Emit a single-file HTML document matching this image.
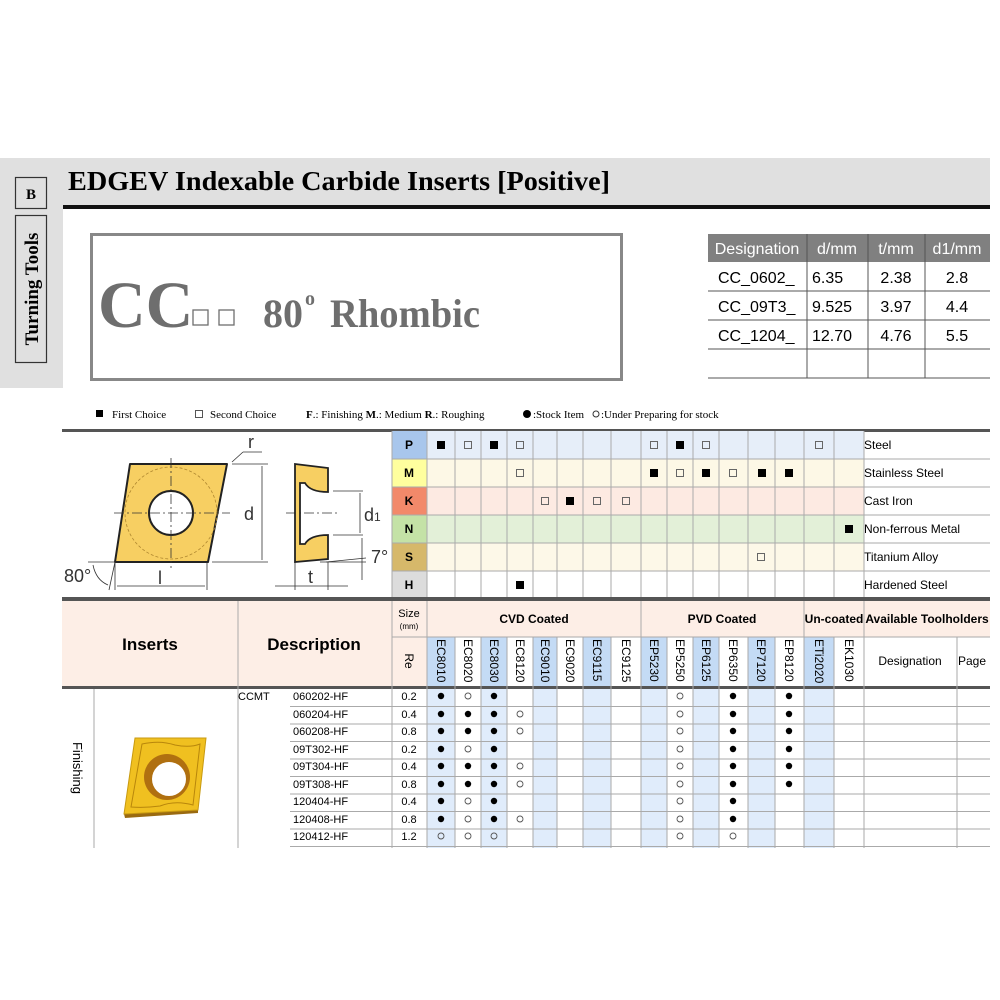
<!DOCTYPE html>
<html><head><meta charset="utf-8"><style>
html,body{margin:0;padding:0;background:#fff;}
svg{display:block;}
.s{font-family:"Liberation Sans",sans-serif;}
.r{font-family:"Liberation Serif",serif;}
</style></head><body>
<svg width="1000" height="1000" viewBox="0 0 1000 1000" xmlns="http://www.w3.org/2000/svg">
<!-- header band -->
<rect x="0" y="158" width="990" height="50" fill="#e0e0e0"/>
<rect x="0" y="158" width="63" height="230" fill="#e0e0e0"/>
<rect x="63" y="205" width="927" height="4" fill="#111"/>
<rect x="15.5" y="177.5" width="31" height="31" fill="none" stroke="#333" stroke-width="1.2"/>
<text x="31" y="199" class="r" font-size="15" font-weight="bold" text-anchor="middle">B</text>
<rect x="15.5" y="215.5" width="31" height="147" fill="none" stroke="#333" stroke-width="1.2"/>
<text transform="translate(38,289) rotate(-90)" class="r" font-size="19" font-weight="bold" text-anchor="middle">Turning Tools</text>
<text x="68" y="190" class="r" font-size="27" font-weight="bold" textLength="542" lengthAdjust="spacingAndGlyphs">EDGEV Indexable Carbide Inserts [Positive]</text>
<!-- big box -->
<rect x="91.5" y="234.5" width="530" height="145" fill="#fff" stroke="#888" stroke-width="3"/>
<text x="98" y="327" class="r" font-size="66" font-weight="bold" fill="#6e6e6e">CC</text>
<rect x="193" y="310" width="15" height="15" fill="none" stroke="#6e6e6e" stroke-width="1.3"/>
<rect x="219" y="310" width="15" height="15" fill="none" stroke="#6e6e6e" stroke-width="1.3"/>
<text x="263" y="327" class="r" font-size="40" font-weight="bold" fill="#6e6e6e">80</text>
<text x="305" y="305" class="r" font-size="20" font-weight="bold" fill="#6e6e6e">o</text>
<text x="330" y="327" class="r" font-size="40" font-weight="bold" fill="#6e6e6e" textLength="150" lengthAdjust="spacingAndGlyphs">Rhombic</text>
<!-- dimensions table -->
<rect x="708" y="234" width="282" height="28" fill="#808080"/>
<g stroke="#555" stroke-width="1">
<line x1="807" y1="234" x2="807" y2="378"/><line x1="868" y1="234" x2="868" y2="378"/><line x1="925" y1="234" x2="925" y2="378"/>
<line x1="708" y1="291" x2="990" y2="291"/><line x1="708" y1="320" x2="990" y2="320"/><line x1="708" y1="349" x2="990" y2="349"/><line x1="708" y1="378" x2="990" y2="378"/>
</g>
<g class="s" font-size="16">
<text x="757" y="254" fill="#fff" text-anchor="middle">Designation</text>
<text x="837" y="254" fill="#fff" text-anchor="middle">d/mm</text>
<text x="896" y="254" fill="#fff" text-anchor="middle">t/mm</text>
<text x="957" y="254" fill="#fff" text-anchor="middle">d1/mm</text>
<text x="718" y="283">CC_0602_</text><text x="812" y="283">6.35</text><text x="896" y="283" text-anchor="middle">2.38</text><text x="957" y="283" text-anchor="middle">2.8</text>
<text x="718" y="312">CC_09T3_</text><text x="812" y="312">9.525</text><text x="896" y="312" text-anchor="middle">3.97</text><text x="957" y="312" text-anchor="middle">4.4</text>
<text x="718" y="341">CC_1204_</text><text x="812" y="341">12.70</text><text x="896" y="341" text-anchor="middle">4.76</text><text x="957" y="341" text-anchor="middle">5.5</text>
</g>
<!-- legend -->
<g class="r" font-size="11">
<rect x="96" y="410" width="7" height="7" fill="#000"/><text x="112" y="418">First Choice</text>
<rect x="195.5" y="410.5" width="7" height="7" fill="none" stroke="#555"/><text x="210" y="418">Second Choice</text>
<text x="306" y="418"><tspan font-weight="bold">F</tspan>.: Finishing  <tspan font-weight="bold">M</tspan>.: Medium  <tspan font-weight="bold">R</tspan>.: Roughing</text>
<circle cx="527" cy="414" r="4" fill="#000"/><text x="533" y="418">:Stock Item</text>
<circle cx="596" cy="414" r="3" fill="none" stroke="#333"/><text x="601" y="418">:Under Preparing for stock</text>
</g>
<!-- material rows -->
<rect x="62" y="429" width="928" height="3" fill="#555"/>
<rect x="427" y="431" width="437" height="28" fill="#e6eef9"/>
<rect x="427" y="459" width="437" height="28" fill="#fdf8e6"/>
<rect x="427" y="487" width="437" height="28" fill="#fdeae2"/>
<rect x="427" y="515" width="437" height="28" fill="#e3f0d8"/>
<rect x="427" y="543" width="437" height="28" fill="#fdf8e8"/>
<rect x="427" y="571" width="437" height="28" fill="#fff"/>
<rect x="392" y="431" width="35" height="28" fill="#a8c6ec"/>
<rect x="392" y="459" width="35" height="28" fill="#ffff9e"/>
<rect x="392" y="487" width="35" height="28" fill="#f2896a"/>
<rect x="392" y="515" width="35" height="28" fill="#c4e2a6"/>
<rect x="392" y="543" width="35" height="28" fill="#d6b86a"/>
<rect x="392" y="571" width="35" height="28" fill="#dcdcdc"/>
<g class="s" font-size="12" font-weight="bold" text-anchor="middle">
<text x="409" y="449">P</text><text x="409" y="477">M</text><text x="409" y="505">K</text><text x="409" y="533">N</text><text x="409" y="561">S</text><text x="409" y="589">H</text>
</g>
<g class="s" font-size="12">
<text x="864" y="449">Steel</text><text x="864" y="477">Stainless Steel</text><text x="864" y="505">Cast Iron</text><text x="864" y="533">Non-ferrous Metal</text><text x="864" y="561">Titanium Alloy</text><text x="864" y="589">Hardened Steel</text>
</g>
<g stroke="#aaa" stroke-width="1">
<line x1="392" y1="459" x2="990" y2="459"/><line x1="392" y1="487" x2="990" y2="487"/><line x1="392" y1="515" x2="990" y2="515"/><line x1="392" y1="543" x2="990" y2="543"/><line x1="392" y1="571" x2="990" y2="571"/>
<line x1="392" y1="431" x2="392" y2="599"/>
<line x1="427" y1="431" x2="427" y2="599"/><line x1="455" y1="431" x2="455" y2="599"/><line x1="481" y1="431" x2="481" y2="599"/><line x1="507" y1="431" x2="507" y2="599"/><line x1="533" y1="431" x2="533" y2="599"/><line x1="557" y1="431" x2="557" y2="599"/><line x1="583" y1="431" x2="583" y2="599"/><line x1="611" y1="431" x2="611" y2="599"/><line x1="641" y1="431" x2="641" y2="599"/><line x1="667" y1="431" x2="667" y2="599"/><line x1="693" y1="431" x2="693" y2="599"/><line x1="719" y1="431" x2="719" y2="599"/><line x1="748" y1="431" x2="748" y2="599"/><line x1="775" y1="431" x2="775" y2="599"/><line x1="804" y1="431" x2="804" y2="599"/><line x1="834" y1="431" x2="834" y2="599"/><line x1="864" y1="431" x2="864" y2="599"/>
</g>
<!-- marks: filled -->
<g fill="#000">
<rect x="437" y="441" width="8" height="8"/><rect x="490" y="441" width="8" height="8"/><rect x="676" y="441" width="8" height="8"/>
<rect x="650" y="469" width="8" height="8"/><rect x="702" y="469" width="8" height="8"/><rect x="758" y="469" width="8" height="8"/><rect x="785" y="469" width="8" height="8"/>
<rect x="566" y="497" width="8" height="8"/>
<rect x="845" y="525" width="8" height="8"/>
<rect x="516" y="581" width="8" height="8"/>
</g>
<g fill="none" stroke="#666" stroke-width="1">
<rect x="464.5" y="441.5" width="7" height="7"/><rect x="516.5" y="441.5" width="7" height="7"/><rect x="650.5" y="441.5" width="7" height="7"/><rect x="702.5" y="441.5" width="7" height="7"/><rect x="815.5" y="441.5" width="7" height="7"/>
<rect x="516.5" y="469.5" width="7" height="7"/><rect x="676.5" y="469.5" width="7" height="7"/><rect x="729.5" y="469.5" width="7" height="7"/>
<rect x="541.5" y="497.5" width="7" height="7"/><rect x="593.5" y="497.5" width="7" height="7"/><rect x="622.5" y="497.5" width="7" height="7"/>
<rect x="757.5" y="553.5" width="7" height="7"/>
</g>
<!-- diagram -->
<path d="M130,464 L227,464 L208,562 L115,562 Z" fill="#f7cf62" stroke="#222" stroke-width="2" stroke-linejoin="round"/>
<circle cx="171" cy="513" r="46" fill="none" stroke="#b08830" stroke-width="0.8" stroke-dasharray="3,2"/>
<circle cx="171" cy="513" r="22" fill="#fff" stroke="#222" stroke-width="2"/>
<g stroke="#333" stroke-width="0.8" fill="none">
<line x1="114" y1="513" x2="230" y2="513" stroke-dasharray="10,3,2,3"/>
<line x1="171" y1="458" x2="171" y2="568" stroke-dasharray="10,3,2,3"/>
<line x1="232" y1="464" x2="268" y2="464"/><line x1="212" y1="562" x2="268" y2="562"/>
<line x1="262" y1="466" x2="262" y2="560"/>
<line x1="115" y1="562" x2="115" y2="590"/><line x1="207" y1="562" x2="207" y2="590"/>
<line x1="117" y1="586" x2="205" y2="586"/>
<line x1="88" y1="562" x2="115" y2="562"/>
<line x1="115" y1="562" x2="109" y2="590"/>
<path d="M93,565 Q96,580 108,585"/>
<line x1="232" y1="462" x2="243" y2="452"/><line x1="243" y1="452" x2="262" y2="452"/>
<line x1="333" y1="491" x2="363" y2="491"/><line x1="333" y1="535" x2="363" y2="535"/>
<line x1="360" y1="493" x2="360" y2="533"/>
<line x1="326" y1="562" x2="366" y2="558"/><line x1="320" y1="562" x2="366" y2="562"/>
<line x1="362" y1="538" x2="362" y2="580"/>
<line x1="295" y1="562" x2="295" y2="590"/><line x1="328" y1="562" x2="328" y2="590"/>
<line x1="275" y1="586" x2="348" y2="586"/>
<line x1="286" y1="513" x2="338" y2="513" stroke-dasharray="10,3,2,3"/>
</g>
<path d="M295,464 L328,468 L328,492 Q310,492 305,483 L300,483 L300,544 L305,544 Q310,535 328,535 L328,559 L295,562 Z" fill="#f7cf62" stroke="#222" stroke-width="1.8"/>
<path d="M300,483 L300,544" stroke="#222" stroke-width="1"/>
<g class="s" font-size="18" fill="#333">
<text x="248" y="448">r</text><text x="244" y="520">d</text><text x="364" y="521">d<tspan font-size="12">1</tspan></text>
<text x="371" y="563">7°</text><text x="64" y="582">80°</text><text x="158" y="584">l</text><text x="308" y="583">t</text>
</g>
<!-- second header -->
<rect x="62" y="597" width="928" height="4" fill="#555"/>
<rect x="62" y="601" width="330" height="85" fill="#fdeee6"/>
<rect x="392" y="601" width="598" height="36" fill="#fdeee6"/>
<rect x="392" y="637" width="35" height="49" fill="#fdeee6"/>
<g fill="#c4dbf5">
<rect x="427" y="637" width="28" height="49"/><rect x="481" y="637" width="26" height="49"/><rect x="533" y="637" width="24" height="49"/><rect x="583" y="637" width="28" height="49"/><rect x="641" y="637" width="26" height="49"/><rect x="693" y="637" width="26" height="49"/><rect x="748" y="637" width="27" height="49"/><rect x="804" y="637" width="30" height="49"/>
</g>
<rect x="62" y="686" width="928" height="3" fill="#555"/>
<!-- data rows light columns -->
<g fill="#e0ecfb">
<rect x="427" y="689" width="28" height="159"/><rect x="481" y="689" width="26" height="159"/><rect x="533" y="689" width="24" height="159"/><rect x="583" y="689" width="28" height="159"/><rect x="641" y="689" width="26" height="159"/><rect x="693" y="689" width="26" height="159"/><rect x="748" y="689" width="27" height="159"/><rect x="804" y="689" width="30" height="159"/>
</g>
<g stroke="#aaa" stroke-width="1">
<line x1="238" y1="601" x2="238" y2="848"/><line x1="94" y1="689" x2="94" y2="848"/>
<line x1="392" y1="601" x2="392" y2="848"/><line x1="392" y1="637" x2="990" y2="637"/>
<line x1="427" y1="601" x2="427" y2="848"/><line x1="641" y1="601" x2="641" y2="848"/><line x1="804" y1="601" x2="804" y2="848"/><line x1="864" y1="601" x2="864" y2="848"/>
<line x1="455" y1="637" x2="455" y2="848"/><line x1="481" y1="637" x2="481" y2="848"/><line x1="507" y1="637" x2="507" y2="848"/><line x1="533" y1="637" x2="533" y2="848"/><line x1="557" y1="637" x2="557" y2="848"/><line x1="583" y1="637" x2="583" y2="848"/><line x1="611" y1="637" x2="611" y2="848"/><line x1="667" y1="637" x2="667" y2="848"/><line x1="693" y1="637" x2="693" y2="848"/><line x1="719" y1="637" x2="719" y2="848"/><line x1="748" y1="637" x2="748" y2="848"/><line x1="775" y1="637" x2="775" y2="848"/><line x1="834" y1="637" x2="834" y2="848"/><line x1="957" y1="637" x2="957" y2="848"/>
<line x1="290" y1="706.5" x2="990" y2="706.5"/><line x1="290" y1="724" x2="990" y2="724"/><line x1="290" y1="741.5" x2="990" y2="741.5"/><line x1="290" y1="759" x2="990" y2="759"/><line x1="290" y1="776.5" x2="990" y2="776.5"/><line x1="290" y1="794" x2="990" y2="794"/><line x1="290" y1="811.5" x2="990" y2="811.5"/><line x1="290" y1="829" x2="990" y2="829"/><line x1="290" y1="846.5" x2="990" y2="846.5"/>
</g>
<g class="s" font-weight="bold" text-anchor="middle">
<text x="150" y="650" font-size="17">Inserts</text><text x="314" y="650" font-size="17">Description</text>
<text x="534" y="623" font-size="12">CVD Coated</text><text x="722" y="623" font-size="12">PVD Coated</text>
<text x="834" y="623" font-size="12">Un-coated</text><text x="927" y="623" font-size="12">Available Toolholders</text>
</g>
<g class="s" text-anchor="middle">
<text x="409" y="617" font-size="11">Size</text><text x="409" y="629" font-size="8">(mm)</text>
<text x="409" y="665" font-size="12" transform="rotate(90 409 661)">Re</text>
<text x="910" y="665" font-size="12">Designation</text><text x="972" y="665" font-size="12">Page</text>
</g>
<g class="s" font-size="12">
<text transform="translate(437,639) rotate(90)">EC8010</text>
<text transform="translate(464,639) rotate(90)">EC8020</text>
<text transform="translate(490,639) rotate(90)">EC8030</text>
<text transform="translate(516,639) rotate(90)">EC8120</text>
<text transform="translate(541,639) rotate(90)">EC9010</text>
<text transform="translate(566,639) rotate(90)">EC9020</text>
<text transform="translate(593,639) rotate(90)">EC9115</text>
<text transform="translate(622,639) rotate(90)">EC9125</text>
<text transform="translate(650,639) rotate(90)">EP5230</text>
<text transform="translate(676,639) rotate(90)">EP5250</text>
<text transform="translate(702,639) rotate(90)">EP6125</text>
<text transform="translate(729,639) rotate(90)">EP6350</text>
<text transform="translate(757,639) rotate(90)">EP7120</text>
<text transform="translate(785,639) rotate(90)">EP8120</text>
<text transform="translate(815,639) rotate(90)">ETi2020</text>
<text transform="translate(845,639) rotate(90)">EK1030</text>
</g>
<!-- data text -->
<text transform="translate(73,768) rotate(90)" class="s" font-size="13" text-anchor="middle">Finishing</text>
<g class="s" font-size="11">
<text x="238" y="700">CCMT</text>
<text x="293" y="700">060202-HF</text><text x="293" y="718">060204-HF</text><text x="293" y="735">060208-HF</text><text x="293" y="753">09T302-HF</text><text x="293" y="770">09T304-HF</text><text x="293" y="788">09T308-HF</text><text x="293" y="805">120404-HF</text><text x="293" y="823">120408-HF</text><text x="293" y="840">120412-HF</text>
</g>
<g class="s" font-size="11" text-anchor="middle">
<text x="409" y="700">0.2</text><text x="409" y="718">0.4</text><text x="409" y="735">0.8</text><text x="409" y="753">0.2</text><text x="409" y="770">0.4</text><text x="409" y="788">0.8</text><text x="409" y="805">0.4</text><text x="409" y="823">0.8</text><text x="409" y="840">1.2</text>
</g>
<g fill="#000">
<!-- EC8010 col 441 -->
<circle cx="441" cy="696" r="3.2"/><circle cx="441" cy="714" r="3.2"/><circle cx="441" cy="731" r="3.2"/><circle cx="441" cy="749" r="3.2"/><circle cx="441" cy="766" r="3.2"/><circle cx="441" cy="784" r="3.2"/><circle cx="441" cy="801" r="3.2"/><circle cx="441" cy="819" r="3.2"/>
<!-- EC8020 col 468 -->
<circle cx="468" cy="714" r="3.2"/><circle cx="468" cy="731" r="3.2"/><circle cx="468" cy="766" r="3.2"/><circle cx="468" cy="784" r="3.2"/>
<!-- EC8030 col 494 -->
<circle cx="494" cy="696" r="3.2"/><circle cx="494" cy="714" r="3.2"/><circle cx="494" cy="731" r="3.2"/><circle cx="494" cy="749" r="3.2"/><circle cx="494" cy="766" r="3.2"/><circle cx="494" cy="784" r="3.2"/><circle cx="494" cy="801" r="3.2"/><circle cx="494" cy="819" r="3.2"/>
<!-- EP6350 col 733 -->
<circle cx="733" cy="696" r="3.2"/><circle cx="733" cy="714" r="3.2"/><circle cx="733" cy="731" r="3.2"/><circle cx="733" cy="749" r="3.2"/><circle cx="733" cy="766" r="3.2"/><circle cx="733" cy="784" r="3.2"/><circle cx="733" cy="801" r="3.2"/><circle cx="733" cy="819" r="3.2"/>
<!-- EP8120 col 789 -->
<circle cx="789" cy="696" r="3.2"/><circle cx="789" cy="714" r="3.2"/><circle cx="789" cy="731" r="3.2"/><circle cx="789" cy="749" r="3.2"/><circle cx="789" cy="766" r="3.2"/><circle cx="789" cy="784" r="3.2"/>
</g>
<g fill="none" stroke="#555" stroke-width="0.9">
<circle cx="468" cy="696" r="3"/><circle cx="468" cy="749" r="3"/><circle cx="468" cy="801" r="3"/><circle cx="468" cy="819" r="3"/><circle cx="468" cy="836" r="3"/>
<circle cx="441" cy="836" r="3"/><circle cx="494" cy="836" r="3"/>
<circle cx="520" cy="714" r="3"/><circle cx="520" cy="731" r="3"/><circle cx="520" cy="766" r="3"/><circle cx="520" cy="784" r="3"/><circle cx="520" cy="819" r="3"/>
<circle cx="680" cy="696" r="3"/><circle cx="680" cy="714" r="3"/><circle cx="680" cy="731" r="3"/><circle cx="680" cy="749" r="3"/><circle cx="680" cy="766" r="3"/><circle cx="680" cy="784" r="3"/><circle cx="680" cy="801" r="3"/><circle cx="680" cy="819" r="3"/><circle cx="680" cy="836" r="3"/>
<circle cx="733" cy="836" r="3"/>
</g>
<!-- insert photo -->
<path d="M124,814 L198,809 L198,813 L125,818 Z" fill="#9a6a10"/>
<path d="M135,738 L206,738 L198,810 L124,814 Z" fill="#f0c020" stroke="#c89a10" stroke-width="1"/>
<path d="M142,744 Q160,740 175,745 Q190,748 200,744 L193,805 Q175,800 160,806 Q145,808 131,807 Z" fill="none" stroke="#b8860b" stroke-width="1"/>
<circle cx="167" cy="777" r="23" fill="#b07010"/>
<circle cx="169" cy="779" r="17" fill="#fff"/>
</svg>
</body></html>
